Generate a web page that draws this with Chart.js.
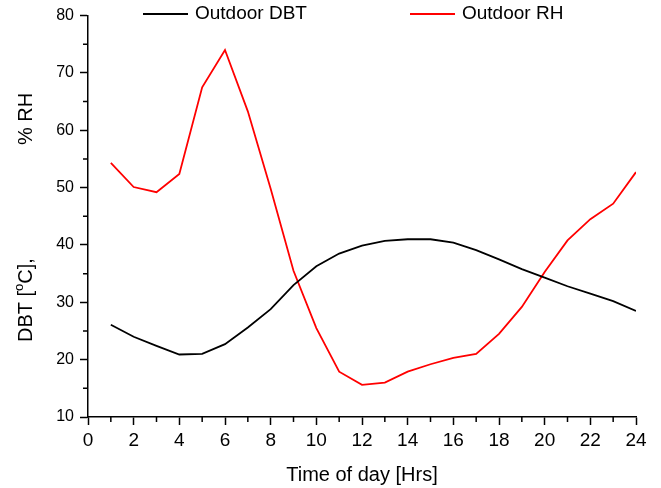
<!DOCTYPE html>
<html>
<head>
<meta charset="utf-8">
<script src="https://cdn.jsdelivr.net/npm/chart.js@4/dist/chart.umd.min.js"></script>
<style>
  html, body { margin: 0; padding: 0; background: #fff; }
  #wrap { width: 661px; height: 488px; }
</style>
</head>
<body>
<div id="wrap"><canvas id="chart" width="661" height="488"></canvas></div>
<script>
const hours = [1, 2, 3, 4, 5, 6, 7, 8, 9, 10, 11, 12, 13, 14, 15, 16, 17, 18, 19, 20, 21, 22, 23, 24]
const dbt = [26.1, 24.0, 22.4, 20.9, 21.0, 22.7, 25.6, 28.8, 33.0, 36.3, 38.5, 39.9, 40.7, 41.0, 41.0, 40.4, 39.1, 37.5, 35.8, 34.3, 32.8, 31.5, 30.2, 28.5]
const rh = [54.3, 50.1, 49.2, 52.4, 67.5, 74.0, 63.3, 49.8, 35.5, 25.5, 17.9, 15.6, 16.0, 17.9, 19.2, 20.3, 21.0, 24.5, 29.2, 35.3, 40.8, 44.5, 47.2, 52.7]
const seriesNames = ["Outdoor DBT", "Outdoor RH"]
const seriesColors = ["#000000", "#ff0000"]
const xMinorTicks = [1, 3, 5, 7, 9, 11, 13, 15, 17, 19, 21, 23]
const yMinorTicks = [15, 25, 35, 45, 55, 65, 75]

const FONT = "'Liberation Sans', Arial, sans-serif"

// short minor ticks, outside the axes
const minorTicks = {
  id: "minorTicks",
  afterDraw(chart) {
    const ctx = chart.ctx
    const x = chart.scales.x
    const y = chart.scales.y
    const area = chart.chartArea
    ctx.save()
    ctx.strokeStyle = "#000"
    ctx.lineWidth = 1.5
    ctx.beginPath()
    xMinorTicks.forEach(v => {
      const px = x.getPixelForValue(v)
      ctx.moveTo(px, area.bottom)
      ctx.lineTo(px, area.bottom + 5)
    })
    yMinorTicks.forEach(v => {
      const py = y.getPixelForValue(v)
      ctx.moveTo(area.left, py)
      ctx.lineTo(area.left - 5, py)
    })
    ctx.stroke()
    ctx.restore()
  }
}

// y title with superscript o and the legend row on top
const labels = {
  id: "labels",
  afterDraw(chart) {
    const ctx = chart.ctx
    ctx.save()
    ctx.fillStyle = "#000"
    ctx.textBaseline = "middle"

    ctx.save()
    ctx.translate(26, 342)
    ctx.rotate(-Math.PI / 2)
    ctx.font = "20px " + FONT
    ctx.textAlign = "left"
    let pos = 0
    ctx.fillText("DBT [", pos, 0)
    pos += ctx.measureText("DBT [").width
    ctx.font = "13px " + FONT
    ctx.fillText("o", pos, -7)
    pos += ctx.measureText("o").width
    ctx.font = "20px " + FONT
    ctx.fillText("C],", pos, 0)
    ctx.textAlign = "center"
    ctx.fillText("% RH", 223, 0)
    ctx.restore()

    const legendX = [143, 410]
    ctx.font = "19px " + FONT
    ctx.textAlign = "left"
    chart.data.datasets.forEach((ds, i) => {
      ctx.strokeStyle = ds.borderColor
      ctx.lineWidth = 1.8
      ctx.beginPath()
      ctx.moveTo(legendX[i], 14)
      ctx.lineTo(legendX[i] + 45, 14)
      ctx.stroke()
      ctx.fillText(ds.label, legendX[i] + 52, 14)
    })
    ctx.restore()
  }
}

new Chart(document.getElementById("chart"), {
  type: "line",
  data: {
    datasets: [
      {
        label: seriesNames[0],
        data: hours.map((h, i) => ({ x: h, y: dbt[i] })),
        borderColor: seriesColors[0],
        borderWidth: 1.8,
        pointRadius: 0,
        tension: 0,
        fill: false
      },
      {
        label: seriesNames[1],
        data: hours.map((h, i) => ({ x: h, y: rh[i] })),
        borderColor: seriesColors[1],
        borderWidth: 1.8,
        pointRadius: 0,
        tension: 0,
        fill: false
      }
    ]
  },
  options: {
    responsive: false,
    animation: false,
    devicePixelRatio: 1,
    layout: { padding: { top: 15, right: 25, left: 0, bottom: 0 } },
    plugins: {
      legend: { display: false },
      tooltip: { enabled: false }
    },
    scales: {
      x: {
        type: "linear",
        min: 0,
        max: 24,
        afterFit: s => { s.height = 71 },
        ticks: {
          stepSize: 2,
          color: "#000",
          padding: 4,
          font: { size: 19, family: FONT }
        },
        grid: {
          drawOnChartArea: false,
          drawTicks: true,
          tickLength: 8,
          tickColor: "#000",
          tickWidth: 1.5
        },
        border: { color: "#000", width: 1.5 },
        title: {
          display: true,
          text: "Time of day [Hrs]",
          color: "#000",
          font: { size: 20, family: FONT },
          padding: { top: 0, bottom: 1 }
        }
      },
      y: {
        min: 10,
        max: 80,
        afterFit: s => { s.width = 88 },
        ticks: {
          stepSize: 10,
          color: "#000",
          padding: 6,
          font: { size: 16, family: FONT }
        },
        grid: {
          drawOnChartArea: false,
          drawTicks: true,
          tickLength: 8,
          tickColor: "#000",
          tickWidth: 1.5
        },
        border: { color: "#000", width: 1.5 }
      }
    }
  },
  plugins: [minorTicks, labels]
})
</script>
</body>
</html>
